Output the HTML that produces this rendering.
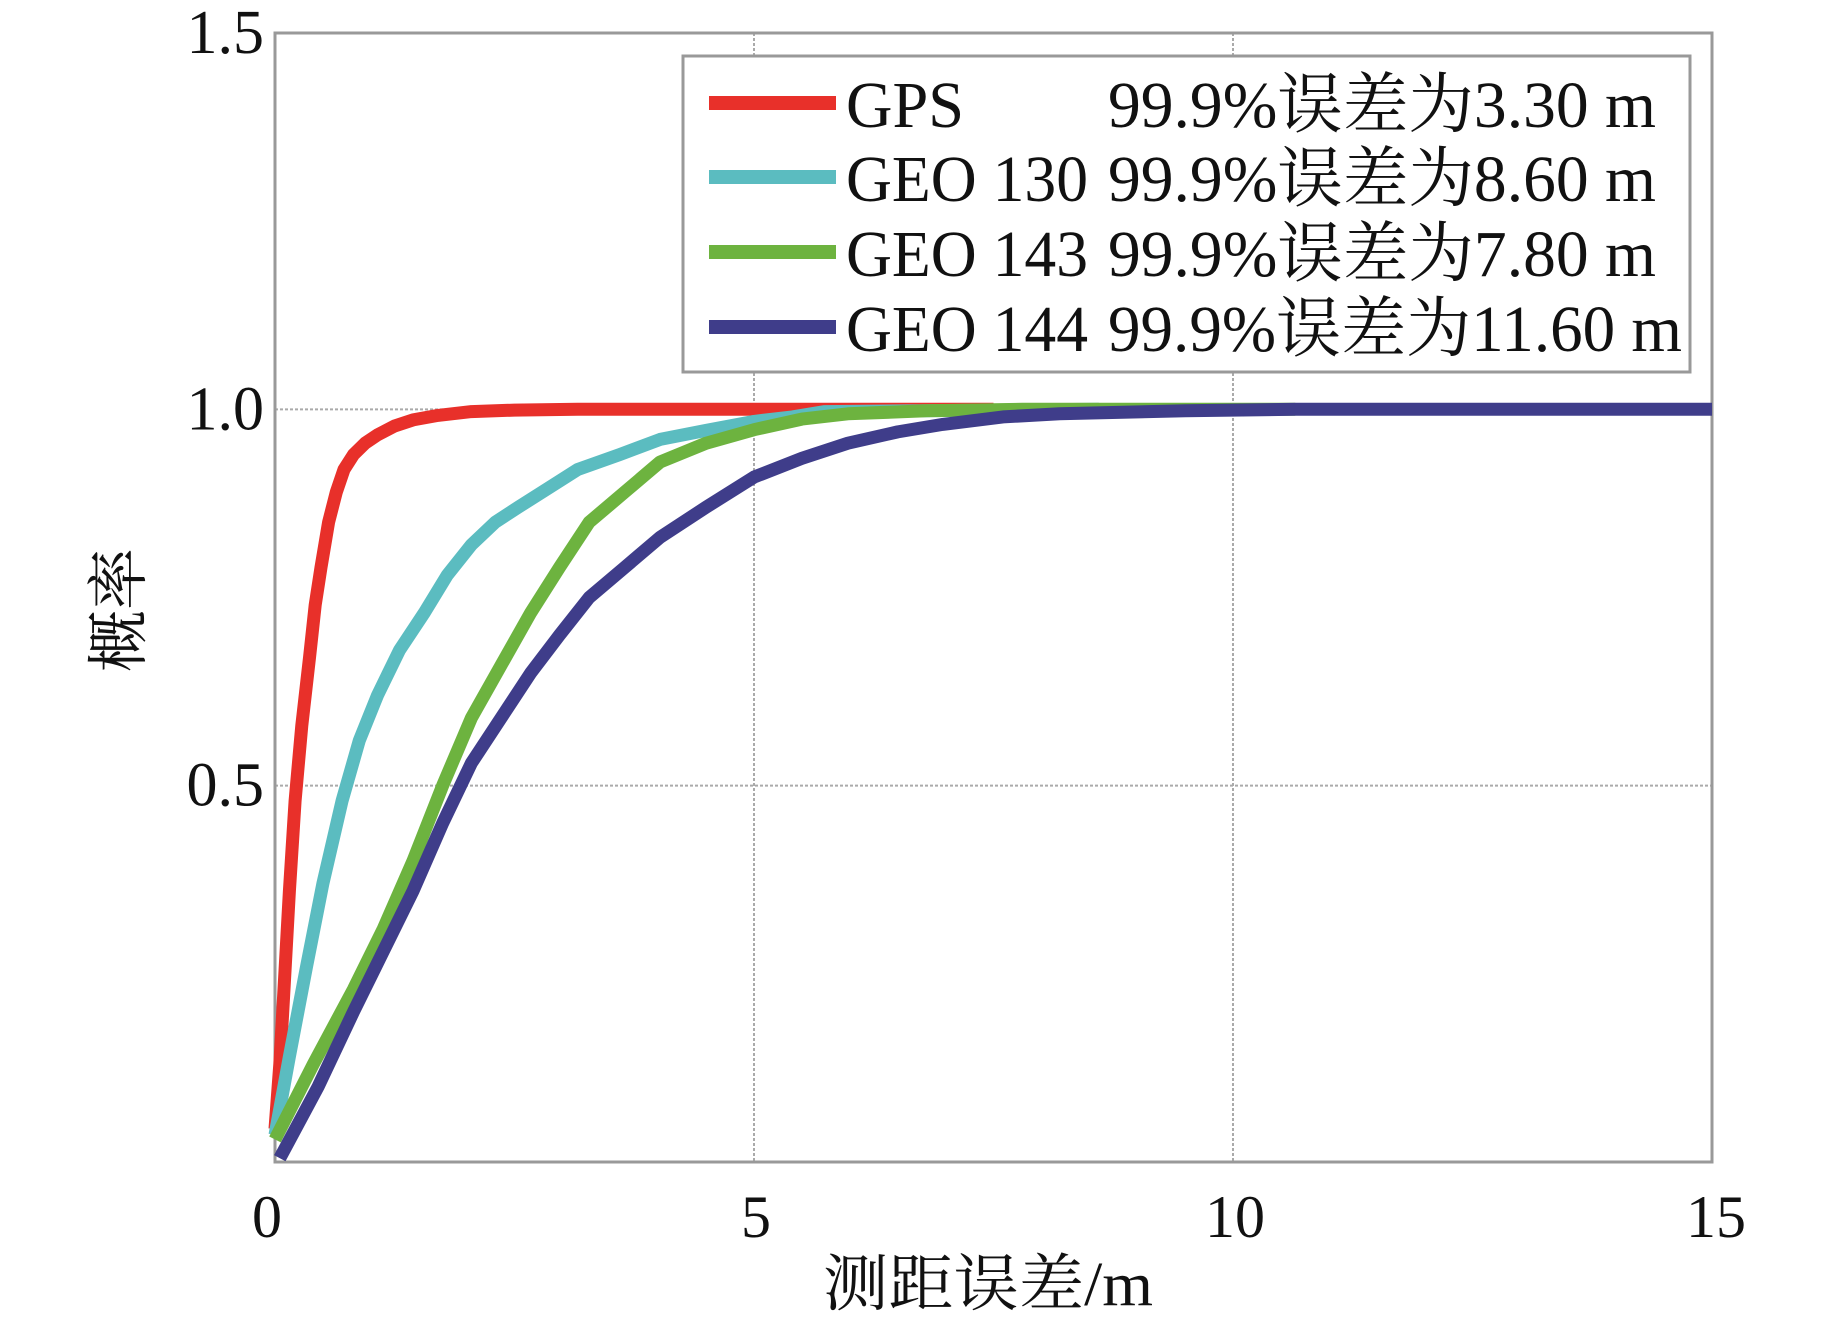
<!DOCTYPE html>
<html><head><meta charset="utf-8"><style>
html,body{margin:0;padding:0;background:#fff;}
svg{display:block;}
text{font-family:"Liberation Serif","Noto Serif CJK SC",serif;fill:#111;white-space:pre;}
</style></head><body>
<svg id="chart" width="1843" height="1320" viewBox="0 0 1843 1320">
<g id="grid"></g>
<rect x="275" y="33" width="1437" height="1129" fill="none" stroke="#999" stroke-width="3"/>
<g id="series"></g>
<g id="ticks"></g>
<text x="988" y="1305" font-size="62" text-anchor="middle" textLength="330" lengthAdjust="spacingAndGlyphs">测距误差/m</text>
<text transform="translate(140,610) rotate(-90)" font-size="62" text-anchor="middle">概率</text>
<g>
<rect x="683" y="56" width="1007" height="316" fill="#fff" stroke="#999" stroke-width="3"/>
<g id="legend-items"></g>
</g>
</svg>
<script>
const xTicks=[0,5,10,15];
const yTicks=[0,0.5,1.0,1.5];
const yTickLabels=["","0.5","1.0","1.5"];
const names=["GPS","GEO 130","GEO 143","GEO 144"];
const legendNames=["GPS","GEO 130","GEO 143","GEO 144"];
const legendTexts=["99.9%误差为3.30 m","99.9%误差为8.60 m","99.9%误差为7.80 m","99.9%误差为11.60 m"];
const colors=["#e8302a","#5bbcc0","#6db33f","#3f3d8a"];
const gpsX=[0,0.05,0.09,0.15,0.21,0.28,0.36,0.42,0.48,0.56,0.64,0.72,0.82,0.94,1.07,1.25,1.44,1.7,2.05,2.5,3.16,7.5];
const gpsY=[0.044,0.13,0.22,0.36,0.48,0.58,0.67,0.74,0.79,0.85,0.89,0.92,0.94,0.955,0.966,0.978,0.986,0.992,0.997,0.999,1.0,1.0];
const g130X=[0,0.15,0.33,0.5,0.7,0.88,1.07,1.3,1.56,1.8,2.05,2.3,2.54,2.85,3.16,3.6,4.02,4.5,5,5.4,5.74,8.6];
const g130Y=[0.036,0.14,0.26,0.37,0.48,0.56,0.62,0.68,0.73,0.78,0.82,0.85,0.87,0.895,0.92,0.94,0.96,0.972,0.984,0.99,0.997,1.0];
const g143X=[0,0.4,0.82,1.13,1.44,1.75,2.05,2.36,2.67,2.97,3.28,3.65,4.02,4.5,5,5.5,5.98,6.8,7.8,10.65];
const g143Y=[0.03,0.13,0.23,0.31,0.40,0.50,0.59,0.66,0.73,0.79,0.85,0.89,0.93,0.955,0.973,0.987,0.994,0.998,1.0,1.0];
const g144X=[0.05,0.45,0.82,1.13,1.44,1.75,2.05,2.36,2.67,2.97,3.28,3.65,4.02,4.5,5,5.5,5.98,6.5,6.97,7.6,8.19,9.5,10.65,15];
const g144Y=[0.005,0.1,0.2,0.28,0.36,0.45,0.53,0.59,0.65,0.70,0.75,0.79,0.83,0.87,0.91,0.935,0.955,0.97,0.98,0.99,0.994,0.998,1.0,1.0];
const seriesX=[gpsX,g130X,g143X,g144X];
const seriesY=[gpsY,g130Y,g143Y,g144Y];
const NS="http://www.w3.org/2000/svg";
const X0=275,X1=1712,Y0=1162,Y1=33;
function sx(v){return X0+(v-0)/(15-0)*(X1-X0);}
function sy(v){return Y0-(v-0)/(1.5-0)*(Y0-Y1);}
function mk(tag,attrs,parent){const e=document.createElementNS(NS,tag);for(const k in attrs)e.setAttribute(k,attrs[k]);parent.appendChild(e);return e;}
const grid=document.getElementById('grid'),ticks=document.getElementById('ticks');
xTicks.forEach((t,i)=>{
  if(t>0&&t<15){const l=mk('line',{x1:sx(t),x2:sx(t),y1:Y1,y2:Y0,stroke:'#aaa','stroke-width':2,'stroke-dasharray':'3,2'},grid);
  
  }
  const tx=mk('text',{x:sx(t)+(t===0?-8:(t===15?4:2)),y:1237,'font-size':60,'text-anchor':'middle'},ticks);
  tx.textContent=String(t);
  
  
});
yTicks.forEach((t,i)=>{
  if(t>0&&t<1.5){const l=mk('line',{x1:X0,x2:X1,y1:sy(t),y2:sy(t),stroke:'#aaa','stroke-width':2,'stroke-dasharray':'3,2'},grid);
  
  }
  if(yTickLabels[i]){const tx=mk('text',{x:264,y:sy(t)+20,'font-size':62,'text-anchor':'end'},ticks);
  tx.textContent=yTickLabels[i];
  
  }
});
const sg=document.getElementById('series');
seriesX.forEach((xs,s)=>{
  const d=xs.map((x,i)=>(i?'L':'M')+sx(x).toFixed(1)+','+sy(seriesY[s][i]).toFixed(1)).join(' ');
  const p=mk('path',{d:d,fill:'none',stroke:colors[s],'stroke-width':13,'stroke-linejoin':'round'},sg);
  
  
});
const li=document.getElementById('legend-items');
const ly=[103,177,252,327];
const nw=[118,242,242,242];
const vw=[548,548,548,574];
const vx=[1108,1108,1108,1108];
legendTexts.forEach((t,i)=>{
  const l=mk('line',{x1:709,x2:836,y1:ly[i],y2:ly[i],stroke:colors[i],'stroke-width':14},li);
  
  
  const tn=mk('text',{x:846,y:ly[i]+24,'font-size':66,textLength:nw[i],lengthAdjust:'spacingAndGlyphs'},li);
  tn.textContent=legendNames[i];
  
  
  const tx=mk('text',{x:vx[i],y:ly[i]+24,'font-size':66,textLength:vw[i],lengthAdjust:'spacingAndGlyphs'},li);
  tx.textContent=t;
  
  
});
</script>
</body></html>
